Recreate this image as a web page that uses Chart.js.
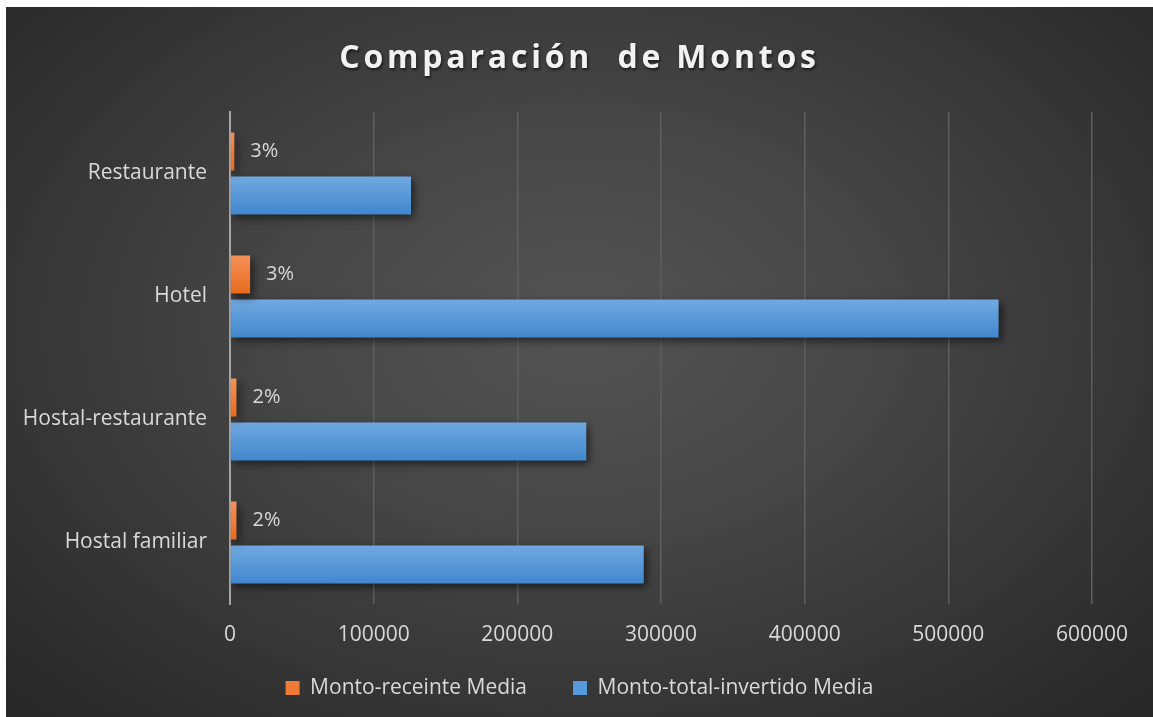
<!DOCTYPE html>
<html lang="es">
<head>
    <meta charset="UTF-8">
    <title>Comparación de Montos</title>
    <script src="https://cdn.jsdelivr.net/npm/chart.js"></script>
    <style>
        body { margin: 0; background: #ffffff; }
        #wrap {
            position: absolute; left: 6px; top: 7px; width: 1147px; height: 710px;
            background: radial-gradient(ellipse at 50% 45%, #545454 0%, #474747 35%, #262626 100%);
        }
    </style>
</head>
<body>
    <div id="wrap">
        <canvas id="montosChart"></canvas>
    </div>

    <script>
        // Datos del grafico
        var categorias = ['Restaurante', 'Hotel', 'Hostal-restaurante', 'Hostal familiar'];
        var montoReciente = [3000, 14000, 4500, 4500];
        var montoTotal = [126000, 535000, 248000, 288000];
        var porcentajes = ['3%', '3%', '2%', '2%'];
        var ticksX = [0, 100000, 200000, 300000, 400000, 500000, 600000];

        var textColor = '#d9d9d9';
        var fuente = "'Open Sans', sans-serif";
        // degradado de cada serie (arriba, abajo)
        var degradados = [['#f4915a', '#e86b1c'], ['#70a9e1', '#4187cd']];

        // sombra y degradado de las barras
        var sombraPlugin = {
            id: 'sombra',
            afterLayout: function (chart) {
                // que las etiquetas del eje x no se recorten
                chart.scales.x.bottom += 30;
            },
            beforeDatasetsDraw: function (chart) {
                var ctx = chart.ctx;
                chart.data.datasets.forEach(function (ds, d) {
                    chart.getDatasetMeta(d).data.forEach(function (bar) {
                        var p = bar.getProps(['y', 'height'], true);
                        var g = ctx.createLinearGradient(0, p.y - p.height / 2, 0, p.y + p.height / 2);
                        g.addColorStop(0, degradados[d][0]);
                        g.addColorStop(1, degradados[d][1]);
                        bar.options = Object.assign({}, bar.options, { backgroundColor: g });
                    });
                });
                ctx.save();
                ctx.shadowColor = 'rgba(0,0,0,0.55)';
                ctx.shadowBlur = 8;
                ctx.shadowOffsetX = 3;
                ctx.shadowOffsetY = 4;
            },
            afterDatasetsDraw: function (chart) {
                chart.ctx.restore();
            }
        };

        // etiquetas de porcentaje junto a las barras naranjas
        var etiquetasPlugin = {
            id: 'etiquetas',
            afterDatasetsDraw: function (chart) {
                var ctx = chart.ctx;
                var meta = chart.getDatasetMeta(0);
                ctx.save();
                ctx.fillStyle = textColor;
                ctx.font = '20px ' + fuente;
                ctx.textAlign = 'left';
                ctx.textBaseline = 'middle';
                meta.data.forEach(function (bar, i) {
                    ctx.fillText(porcentajes[i], bar.x + 16, bar.y);
                });
                ctx.restore();
            }
        };

        // titulo espaciado y con sombra
        var tituloPlugin = {
            id: 'tituloEspaciado',
            beforeDraw: function (chart) {
                var tb = chart.titleBlock;
                if (!tb || tb._espaciado) return;
                var orig = tb.draw;
                tb.draw = function () {
                    var c = this.ctx;
                    c.save();
                    c.letterSpacing = '3.8px';
                    c.shadowColor = 'rgba(0,0,0,0.6)';
                    c.shadowBlur = 3;
                    c.shadowOffsetX = 1;
                    c.shadowOffsetY = 2;
                    orig.apply(this, arguments);
                    c.restore();
                };
                tb._espaciado = true;
            }
        };

        var ctx = document.getElementById('montosChart').getContext('2d');
        new Chart(ctx, {
            type: 'bar',
            data: {
                labels: categorias,
                datasets: [{
                    label: 'Monto-receinte Media',
                    data: montoReciente,
                    backgroundColor: '#ee7a35'
                }, {
                    label: 'Monto-total-invertido Media',
                    data: montoTotal,
                    backgroundColor: '#5599db'
                }]
            },
            options: {
                indexAxis: 'y',
                responsive: true,
                maintainAspectRatio: false,
                animation: false,
                categoryPercentage: 0.715,
                barPercentage: 0.864,
                layout: { padding: { left: 0, right: 0, top: 0, bottom: 8.5 } },
                scales: {
                    x: {
                        min: 0,
                        max: 600000,
                        afterBuildTicks: function (scale) {
                            scale.ticks = ticksX.map(function (v) { return { value: v }; });
                        },
                        afterFit: function (scale) { scale.height = 27.5; },
                        ticks: {
                            color: textColor,
                            font: { family: fuente, size: 21 },
                            padding: 18,
                            callback: function (v) { return String(v); }
                        },
                        grid: { color: '#5e5e5e', lineWidth: 1.5, drawTicks: false },
                        border: { display: false }
                    },
                    y: {
                        afterFit: function (scale) { scale.width = 224; },
                        ticks: {
                            color: textColor,
                            font: { family: fuente, size: 21 },
                            padding: 23
                        },
                        grid: { display: false, drawTicks: false },
                        border: { display: true, color: '#a6a6a6', width: 2 }
                    },
                    // margen derecho vacio
                    derecha: {
                        type: 'linear',
                        axis: 'y',
                        position: 'right',
                        afterFit: function (scale) { scale.width = 61; },
                        ticks: { display: false },
                        grid: { display: false, drawTicks: false },
                        border: { display: false }
                    }
                },
                plugins: {
                    title: {
                        display: true,
                        text: 'Comparación  de Montos',
                        color: '#f2f2f2',
                        font: { family: fuente, size: 32, weight: 'bold' },
                        padding: { top: 33, bottom: 33.6 }
                    },
                    legend: {
                        position: 'bottom',
                        labels: {
                            color: textColor,
                            font: { family: fuente, size: 21 },
                            boxWidth: 14,
                            boxHeight: 14,
                            padding: 46
                        }
                    },
                    tooltip: { enabled: false }
                }
            },
            plugins: [sombraPlugin, etiquetasPlugin, tituloPlugin]
        });
    </script>
</body>
</html>
